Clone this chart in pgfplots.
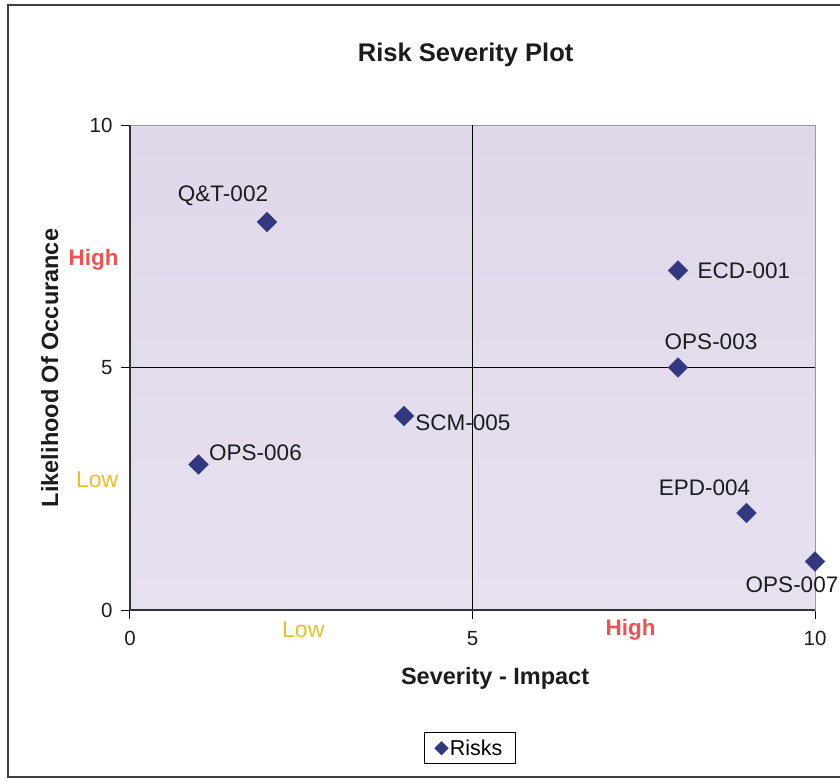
\documentclass[border=0pt]{standalone}
\usepackage{pgfplots}
\usepackage{pgfplotstable}
\pgfplotsset{compat=1.18}
\usepackage{fontspec}
\setmainfont{Liberation Sans}

\definecolor{riskblue}{RGB}{50,56,128}
\definecolor{hicol}{RGB}{238,82,82}
\definecolor{locol}{RGB}{240,188,40}
\definecolor{txt}{RGB}{28,28,28}
\definecolor{bgtop}{RGB}{224,216,234}
\definecolor{bgbot}{RGB}{231,224,239}

% risk register: severity, likelihood, label offset (pt), id
\pgfplotstableread{
x  y  dx  dy  name
8  7  66   0  ECD-001
2  8 -44  26  Q\&T-002
8  5  33  26  OPS-003
9  2 -42  25  EPD-004
4  4  59  -7  SCM-005
1  3  57  12  OPS-006
10 1 -23 -23  OPS-007
}\risks

\begin{document}
\begin{tikzpicture}
% chart frame (open on the right)
\draw[line width=1.5pt, draw=black!75] (712pt,605pt) -- (-122pt,605pt) -- (-122pt,-167pt) -- (712pt,-167pt);
\begin{axis}[
  at={(0pt,0pt)}, anchor=south west,
  scale only axis, width=685pt, height=485pt,
  xmin=0, xmax=10, ymin=0, ymax=10,
  xtick={0,5,10}, ytick={0,5,10},
  tick pos=left, tick align=outside, major tick length=9pt,
  tick style={black, line width=1pt},
  axis line style={draw=black!40, line width=0.8pt},
  axis background/.style={top color=bgtop, bottom color=bgbot},
  ticklabel style={font=\fontsize{20.5}{20.5}\selectfont, text=txt},
  xticklabel style={yshift=-9pt},
  yticklabel style={xshift=-5pt},
  /pgf/number format/assume math mode=true,
  clip=false,
  title={Risk Severity Plot},
  title style={at={(0.49,1.132)}, anchor=center, font=\bfseries\fontsize{25.5}{25.5}\selectfont, text=txt},
  xlabel={Severity - Impact},
  xlabel style={at={(0.533,-0.142)}, anchor=center, font=\bfseries\fontsize{23.5}{23.5}\selectfont, text=txt},
  ylabel={Likelihood Of Occurance},
  ylabel style={at={(-0.117,0.499)}, anchor=center, font=\bfseries\fontsize{23.5}{23.5}\selectfont, text=txt},
  legend style={at={(0.496,-0.285)}, anchor=center, draw=black, line width=1pt,
    font=\fontsize{21.5}{21.5}\selectfont, inner xsep=11pt, inner ysep=5pt},
  legend image post style={mark size=4.5pt},
]
% quadrant dividers and the dark left/bottom axis lines
\draw[black, line width=1.3pt] (axis cs:5,0) -- (axis cs:5,10);
\draw[black, line width=1.3pt] (axis cs:0,5) -- (axis cs:10,5);
\draw[black!80, line width=1.2pt] (axis cs:0,10) -- (axis cs:0,0) -- (axis cs:10,0);

\addplot[only marks, mark=square*, mark size=7pt,
  mark options={rotate=45, fill=riskblue, draw=riskblue},
  point meta=explicit symbolic,
  nodes near coords,
  visualization depends on={\thisrow{dx} \as \dx},
  visualization depends on={\thisrow{dy} \as \dy},
  every node near coord/.append style={anchor=center, xshift=\dx pt, yshift=\dy pt,
    font=\fontsize{22.5}{22.5}\selectfont, text=txt},
] table[x=x, y=y, meta=name] {\risks};
\addlegendentry{Risks}

% qualitative scale labels
\node[text=hicol, font=\bfseries\fontsize{22.5}{22.5}\selectfont] at (axis cs:-0.53,7.22) {High};
\node[text=locol, font=\fontsize{23}{23}\selectfont] at (axis cs:-0.48,2.68) {Low};
\node[text=locol, font=\fontsize{23}{23}\selectfont] at (axis cs:2.53,-0.41) {Low};
\node[text=hicol, font=\bfseries\fontsize{22.5}{22.5}\selectfont] at (axis cs:7.31,-0.41) {High};
\end{axis}
\pgfresetboundingbox
\useasboundingbox (-130pt,-170pt) rectangle (710pt,610pt);
\end{tikzpicture}
\end{document}
